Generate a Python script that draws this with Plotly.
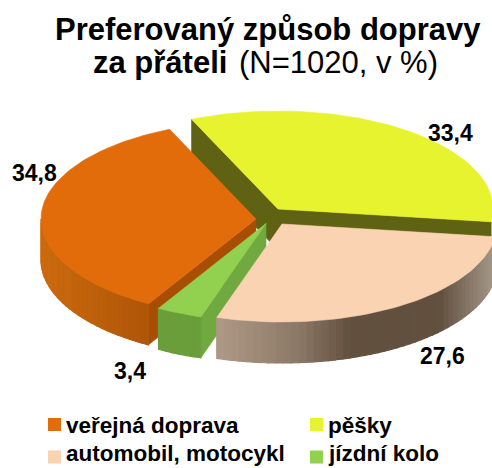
import math
import plotly.graph_objects as go

# --- data ---
kategorie = ["veřejná doprava", "pěšky", "automobil, motocykl", "jízdní kolo"]
hodnoty = [34.8, 33.4, 27.6, 3.4]
popisky = ["34,8", "33,4", "27,6", "3,4"]

# --- style ---
barvy = ["#E36C0A", "#E6F32E", "#FAD3B3", "#92D050"]
radial = ["#A84E04", "#5F6213", None, "#6FA93F"]
plast = [
    [(41, "#CC6A0E"), (150, "#AE5508")],
    [(0, "#5F6213"), (492, "#5F6213")],
    [(217, "#AE9A86"), (300, "#8B7765"), (350, "#62503F"), (440, "#62503F"), (492, "#A39686")],
    [(155, "#6A9E3A"), (205, "#6A9E3A")],
]
posun = [(-11, 3), (11, -7), (15, 8), (-1, 7.5)]
CX, CY, RX, RY, H, START = 267, 216, 215, 98, 41, -150


def hex2rgb(h):
    return tuple(int(h[i:i + 2], 16) for i in (1, 3, 5))


def grad(stops, x):
    if x <= stops[0][0]:
        return stops[0][1]
    for (a, ca), (b, cb) in zip(stops, stops[1:]):
        if x <= b:
            f = (x - a) / (b - a)
            r = [round(p + (q - p) * f) for p, q in zip(hex2rgb(ca), hex2rgb(cb))]
            return "rgb(%d,%d,%d)" % tuple(r)
    return stops[-1][1]


fig = go.Figure()


def poly(xs, ys, color, w=0.6):
    fig.add_trace(go.Scatter(x=xs, y=ys, mode="lines", fill="toself", fillcolor=color,
                             line=dict(color=color, width=w), hoverinfo="skip", showlegend=False))


def pt(c, t):
    r = math.radians(t)
    return c[0] + RX * math.sin(r), c[1] - RY * math.cos(r)


celkem = sum(hodnoty)
uhly = []
a = START
for v in hodnoty:
    uhly.append((a, a + v / celkem * 360))
    a = uhly[-1][1]


def kresli(i):
    t0, t1 = uhly[i]
    c = (CX + posun[i][0], CY + posun[i][1])
    # radial side faces
    if radial[i]:
        for t in ((t0, t1) if i == 1 else (t0,)):
            px, py = pt(c, t)
            poly([c[0], px, px, c[0], c[0]], [c[1], py, py + H, c[1] + H, c[1]], radial[i])
    # outer wall, front half only, shaded strip by strip
    if t0 < 0:
        lo, hi = max(t0 + 360, 90), 270
    else:
        lo, hi = max(t0, 90), min(t1, 270)
    if hi > lo:
        n = max(2, int((hi - lo) / 2))
        for k in range(n):
            u0 = lo + (hi - lo) * k / n
            u1 = lo + (hi - lo) * (k + 1) / n
            ts = [u0 + (u1 - u0) * j / 3 for j in range(4)]
            top = [pt(c, u) for u in ts]
            xs = [p[0] for p in top] + [p[0] for p in reversed(top)] + [top[0][0]]
            ys = [p[1] for p in top] + [p[1] + H for p in reversed(top)] + [top[0][1]]
            poly(xs, ys, grad(plast[i], sum(xs) / len(xs)), 1.2)
    # top surface
    n = max(8, int((t1 - t0) / 1.5))
    arc = [pt(c, t0 + (t1 - t0) * j / n) for j in range(n + 1)]
    poly([c[0]] + [p[0] for p in arc] + [c[0]], [c[1]] + [p[1] for p in arc] + [c[1]], barvy[i])


for i in (1, 0, 3, 2):
    kresli(i)

# legend swatches
leg_x = [54.5, 316.5, 54.5, 316.5]
leg_y = [424.5, 424.5, 457, 457]
for i, nazev in enumerate(kategorie):
    fig.add_trace(go.Scatter(x=[leg_x[i]], y=[leg_y[i]], mode="markers",
                             marker=dict(symbol="square", size=13, color=barvy[i], line=dict(width=0)),
                             hoverinfo="skip", showlegend=False))

F = "Liberation Sans, Arial, sans-serif"


def txt(x, y, s, size, anchor="left", bold=True):
    fig.add_annotation(x=x, y=y, xref="x", yref="y", text=("<b>%s</b>" % s if bold else s),
                       showarrow=False, xanchor=anchor, yanchor="middle",
                       font=dict(family=F, size=size, color="#000000"))


txt(268, 29, "Preferovaný způsob dopravy", 31, "center")
txt(91, 62, "za přáteli", 31)
txt(237, 62, "(N=1020, v %)", 31, bold=False)
lab = [(34, 173), (450, 133), (442, 356), (130, 371)]
for (x, y), s in zip(lab, popisky):
    txt(x, y, s, 23, "center")
leg_text_y = [425, 425, 453.5, 453.5]
for i, nazev in enumerate(kategorie):
    txt(leg_x[i] + 9, leg_text_y[i], nazev, 22.5)

fig.update_layout(
    width=492, height=468, margin=dict(l=0, r=0, t=0, b=0),
    paper_bgcolor="white", plot_bgcolor="white", showlegend=False,
    xaxis=dict(range=[0, 492], visible=False, fixedrange=True),
    yaxis=dict(range=[468, 0], visible=False, fixedrange=True),
)
fig.write_html("out.html", config={"displayModeBar": False, "responsive": False},
               post_script="document.body.style.margin='0';")
